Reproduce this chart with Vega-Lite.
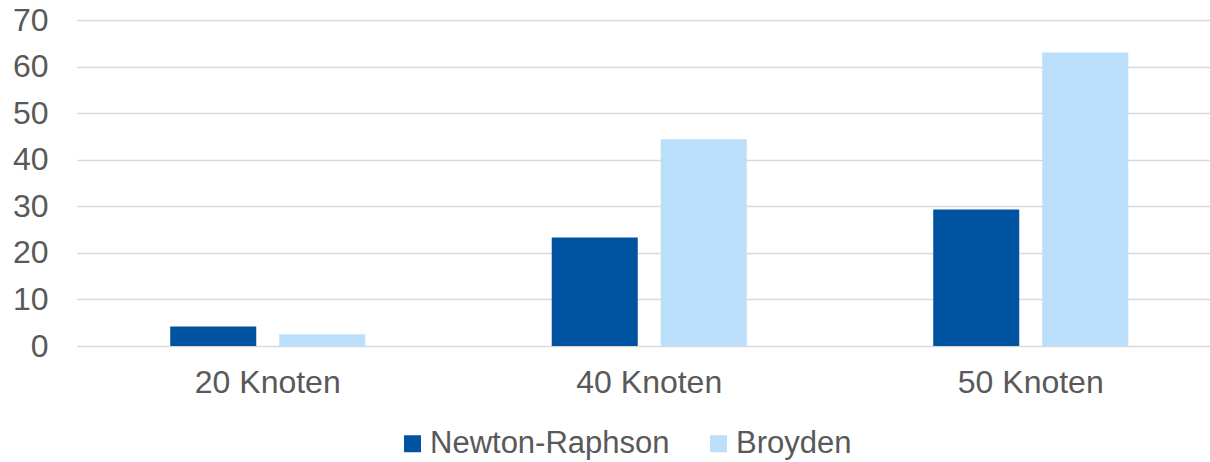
{
  "$schema": "https://vega.github.io/schema/vega-lite/v6.json",
  "width": 1133,
  "height": 326,
  "autosize": "none",
  "padding": {"left": 77, "top": 20, "right": 0, "bottom": 116},
  "background": "white",
  "config": {
    "view": {"stroke": null},
    "font": "Liberation Sans"
  },
  "data": {
    "values": [
      {"knoten": "20 Knoten", "verfahren": "Newton-Raphson", "wert": 4.2},
      {"knoten": "20 Knoten", "verfahren": "Broyden", "wert": 2.5},
      {"knoten": "40 Knoten", "verfahren": "Newton-Raphson", "wert": 23.3},
      {"knoten": "40 Knoten", "verfahren": "Broyden", "wert": 44.4},
      {"knoten": "50 Knoten", "verfahren": "Newton-Raphson", "wert": 29.3},
      {"knoten": "50 Knoten", "verfahren": "Broyden", "wert": 63.0}
    ]
  },
  "mark": {"type": "bar"},
  "encoding": {
    "x": {
      "field": "knoten",
      "type": "nominal",
      "scale": {"range": [0, 1144.5], "paddingInner": 0, "paddingOuter": 0},
      "axis": {
        "title": null,
        "labelAngle": 0,
        "labelFontSize": 32,
        "labelColor": "#595959",
        "labelPadding": 21,
        "ticks": false,
        "tickSize": 0,
        "domain": false
      }
    },
    "xOffset": {
      "field": "verfahren",
      "type": "nominal",
      "sort": ["Newton-Raphson", "Broyden"],
      "scale": {"paddingInner": 0.211, "paddingOuter": 0.855}
    },
    "y": {
      "field": "wert",
      "type": "quantitative",
      "scale": {"domain": [0, 70], "nice": false},
      "axis": {
        "title": null,
        "values": [0, 10, 20, 30, 40, 50, 60, 70],
        "labelFontSize": 32,
        "labelColor": "#595959",
        "labelPadding": 29,
        "ticks": false,
        "tickSize": 0,
        "domain": false,
        "gridColor": "#d9d9d9",
        "gridWidth": 1.5
      }
    },
    "color": {
      "field": "verfahren",
      "type": "nominal",
      "sort": ["Newton-Raphson", "Broyden"],
      "scale": {"domain": ["Newton-Raphson", "Broyden"], "range": ["#0053A0", "#BBDEFB"]},
      "legend": {
        "title": null,
        "orient": "none",
        "direction": "horizontal",
        "legendX": 320,
        "legendY": 408,
        "symbolType": "square",
        "symbolSize": 289,
        "symbolStrokeWidth": 0,
        "labelFontSize": 31,
        "labelLimit": 0,
        "labelColor": "#595959",
        "labelOffset": 2,
        "columnPadding": 33
      }
    }
  }
}
